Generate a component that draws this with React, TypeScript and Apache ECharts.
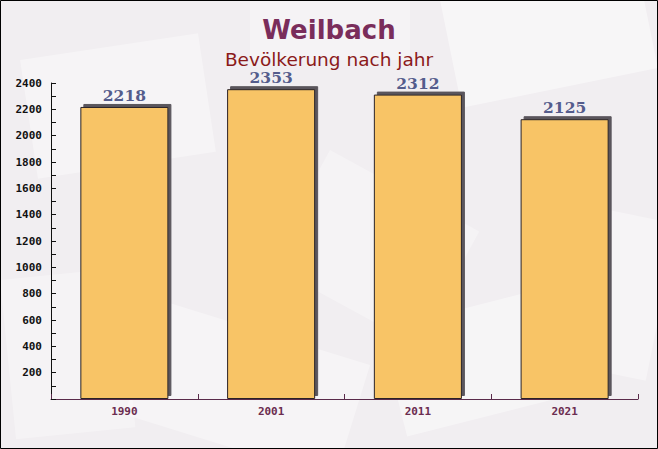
import React, { useEffect, useRef } from "react";
import * as echarts from "echarts";

const categories = ["1990", "2001", "2011", "2021"];
const population = [2218, 2353, 2312, 2125];
const titleText = "Weilbach";
const subtitleText = "Bevölkerung nach jahr";

export default function App() {
  const ref = useRef<HTMLDivElement>(null);
  useEffect(() => {
    if (!ref.current) return;
    const chart = echarts.init(ref.current, undefined, { renderer: "svg" });
    const env = (x: number, y: number, w: number, h: number, r: number, o: number) => ({
      type: "rect",
      x,
      y,
      rotation: r,
      shape: { x: 0, y: 0, width: w, height: h },
      style: { fill: "#ffffff", opacity: o },
      silent: true,
      z: -10,
    });
    chart.setOption({
      animation: false,
      backgroundColor: "#f1eef1",
      title: [
        {
          text: titleText,
          left: "center",
          top: 12,
          textStyle: { fontFamily: "DejaVu Sans", fontWeight: "bold", fontSize: 26, color: "#7a2d5b" },
        },
        {
          text: subtitleText,
          left: "center",
          top: 45,
          textStyle: {
            fontFamily: "DejaVu Sans",
            fontWeight: "normal",
            fontSize: 18.5,
            lineHeight: 19,
            color: "#8b1a1a",
          },
        },
      ],
      graphic: [
        env(20, 60, 180, 120, 0.15, 0.35),
        env(330, 150, 170, 130, -0.5, 0.3),
        env(440, 0, 200, 110, 0.2, 0.45),
        env(160, 300, 220, 120, -0.3, 0.35),
        env(380, 330, 200, 110, 0.25, 0.4),
        env(0, 280, 120, 160, 0.1, 0.3),
        env(560, 200, 120, 160, -0.2, 0.35),
        env(250, 0, 160, 60, 0, 0.3),
        {
          type: "rect",
          shape: { x: 0.5, y: 0.5, width: 657, height: 448 },
          style: { fill: "none", stroke: "#000000", lineWidth: 1 },
          silent: true,
          z: 100,
        },
      ],
      grid: { left: 51, right: 20, top: 83, bottom: 50, containLabel: false },
      xAxis: {
        type: "category",
        data: categories,
        boundaryGap: true,
        axisLine: { show: true, lineStyle: { color: "#5a2a4a", width: 1 } },
        axisTick: { show: true, inside: true, length: 5, lineStyle: { color: "#5a2a4a" } },
        axisLabel: {
          margin: 7,
          fontFamily: "DejaVu Sans Mono",
          fontWeight: "bold",
          fontSize: 11,
          color: "#6b2d50",
        },
        splitLine: { show: false },
      },
      yAxis: {
        type: "value",
        min: 0,
        max: 2400,
        interval: 200,
        axisLine: { show: true, lineStyle: { color: "#111111", width: 1 } },
        axisTick: { show: true, inside: true, length: 5, lineStyle: { color: "#111111" } },
        minorTick: { show: true, splitNumber: 2, length: 5, lineStyle: { color: "#111111" } },
        axisLabel: {
          margin: 9,
          fontFamily: "DejaVu Sans Mono",
          fontWeight: "bold",
          fontSize: 11,
          color: "#111111",
          formatter: (v: number) => (v === 0 ? "" : String(v)),
        },
        splitLine: { show: false },
      },
      series: [
        {
          type: "bar",
          data: population,
          barWidth: "60%",
          itemStyle: {
            color: "#f8c466",
            borderColor: "#2a2226",
            borderWidth: 1,
            shadowColor: "#5a545c",
            shadowOffsetX: 3,
            shadowOffsetY: -3,
            shadowBlur: 0,
          },
          label: {
            show: true,
            position: "top",
            distance: 4,
            fontFamily: "DejaVu Serif",
            fontWeight: "bold",
            fontSize: 15.5,
            lineHeight: 15,
            color: "#545c8c",
          },
        },
      ],
    });
    return () => chart.dispose();
  }, []);
  return (
    <div
      ref={ref}
      style={{ position: "fixed", left: 0, top: 0, width: 658, height: 449 }}
    />
  );
}
